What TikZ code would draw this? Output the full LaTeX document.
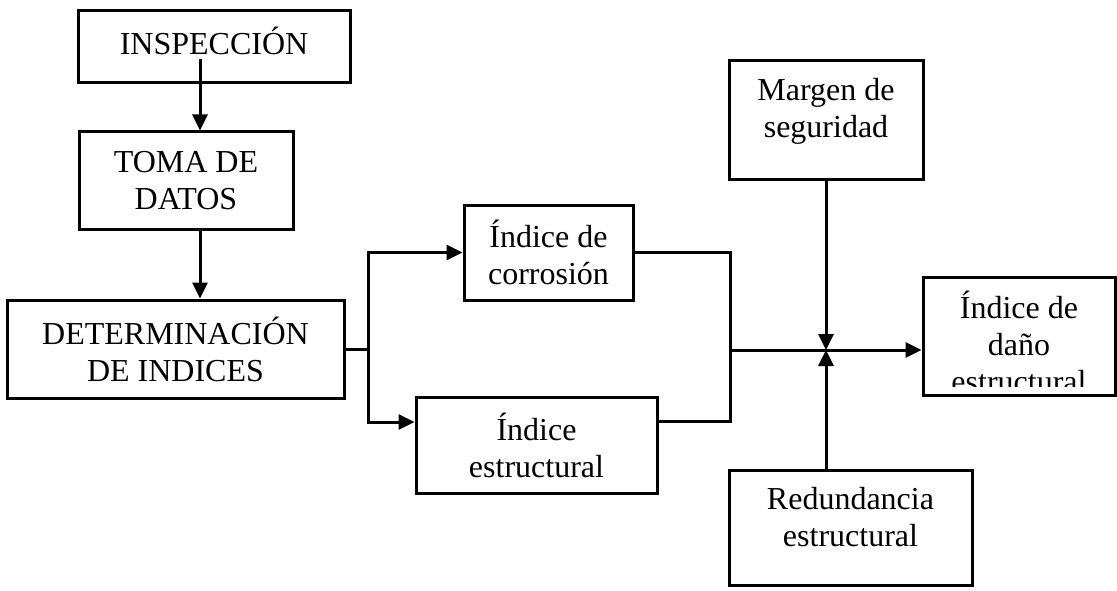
\documentclass[tikz,border=0pt]{standalone}
\usepackage{fontspec}
\setmainfont{Liberation Serif}
\usetikzlibrary{arrows.meta}
\begin{document}
\begin{tikzpicture}[x=1pt,y=-1pt,
  box/.style={draw, line width=3pt, rectangle, inner sep=0pt, align=center},
  lbl/.style={align=center, inner sep=0pt},
  conn/.style={line width=3pt},
  arr/.style={conn, -{Triangle[length=16pt,width=15pt]}},
  font=\fontsize{32}{37}\selectfont]
\useasboundingbox (0,0) rectangle (1117,591);

% left column
\node[box, minimum width=272pt, minimum height=72pt, text depth=13pt] (insp) at (214,47) {INSPECCIÓN};
\node[box, minimum width=214pt, minimum height=97pt] (toma) at (186,180.5) {TOMA DE\\DATOS};
\node[box, minimum width=337pt, minimum height=98pt] (det) at (175.5,349) {DETERMINACIÓN\\DE INDICES};

% the two indices
\node[box, minimum width=169pt, minimum height=95pt] (corr) at (548.5,252.5) {Índice de\\corrosión};
\node[box, minimum width=241pt, minimum height=96pt] (estr) at (536.5,445) {Índice\\estructural};

% factors and result
\node[box, minimum width=194pt, minimum height=119pt] (marg) at (826,120.5) {};
\node[lbl] (margt) at ([yshift=9pt]marg.center) {Margen de\\seguridad};
\node[box, minimum width=243pt, minimum height=115pt] (redu) at (850.5,527.5) {};
\node[lbl] (redut) at ([yshift=10pt]redu.center) {Redundancia\\estructural};
\node[box, minimum width=192pt, minimum height=118pt] (dano) at (1019,336) {};
\begin{scope}
  \clip (925,279) rectangle (1113,386);
  \node[lbl, anchor=north] (danot) at (1019,291) {Índice de\\daño\\estructural};
\end{scope}

% connectors
\coordinate (src) at (200,59);
\draw[arr] (src) -- (src |- toma.north);
\draw[arr] (toma.south -| src) -- (src |- det.north);

\coordinate (split) at (368,349);
\draw[conn] (det.east) -- (split);
\draw[arr] (split) |- (corr.west);
\draw[arr] (split) |- ([yshift=23pt]estr.west);

\coordinate (merge) at (730,350);
\coordinate (hub) at (marg.south |- merge);
\draw[conn] (corr.east) -| (merge);
\draw[conn] ([yshift=24pt]estr.east) -| (merge);
\draw[arr] (merge) -- (merge -| dano.west);
\draw[arr] (marg.south) -- (hub);
\draw[arr] (redu.north -| hub) -- (hub);
\end{tikzpicture}
\end{document}
